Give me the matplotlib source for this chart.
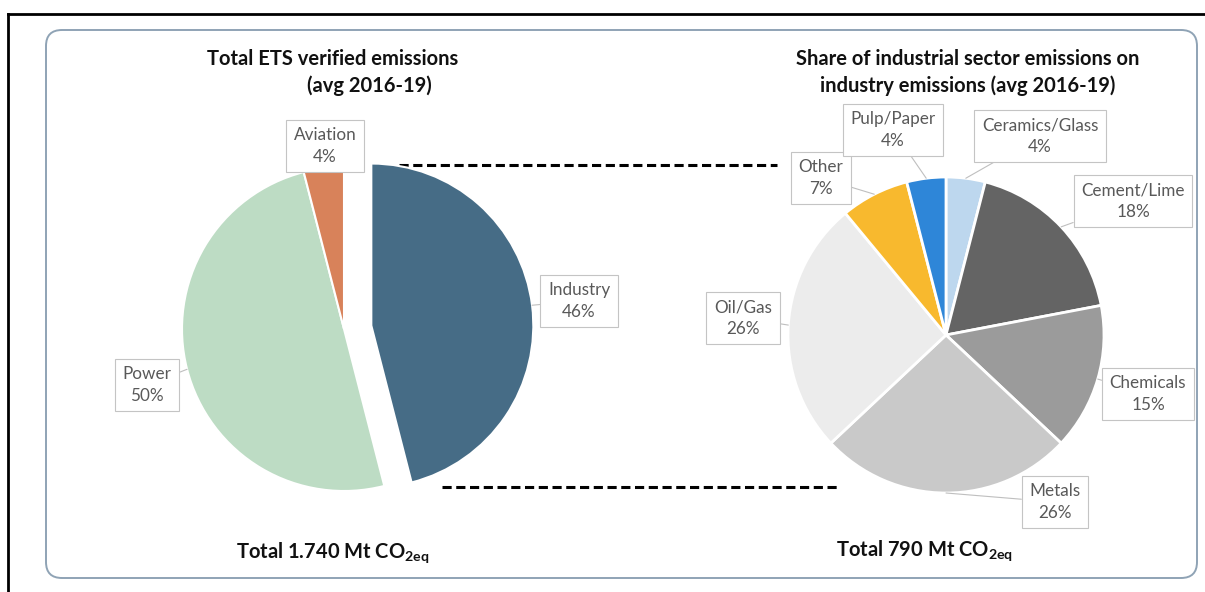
import numpy as np
import matplotlib.pyplot as plt
from matplotlib.patches import FancyBboxPatch

plt.rcParams['font.family'] = ['Lato', 'DejaVu Sans']
plt.rcParams['mathtext.fontset'] = 'custom'
plt.rcParams['mathtext.rm'] = 'Lato'
plt.rcParams['mathtext.bf'] = 'Lato:bold'

# data
ets_labels = ['Industry', 'Power', 'Aviation']
ets_share = [46, 50, 4]
ets_colors = ['#466c86', '#bddcc4', '#d8825a']

ind_labels = ['Ceramics/Glass', 'Cement/Lime', 'Chemicals', 'Metals', 'Oil/Gas', 'Other', 'Pulp/Paper']
ind_share = [4, 18, 15, 26, 26, 7, 4]
ind_colors = ['#bdd7ee', '#646464', '#9b9b9b', '#c9c9c9', '#ececec', '#f8b92e', '#2e86d8']

W, H = 1205, 592
fig = plt.figure(figsize=(W / 100, H / 100), dpi=100)
bg = fig.add_axes([0, 0, 1, 1])
bg.set_xlim(0, W)
bg.set_ylim(H, 0)
bg.axis('off')

# frame + rounded panel
bg.plot([8, 8], [14, H], color='black', lw=2)
bg.plot([8, W], [14, 14], color='black', lw=2)
bg.add_patch(FancyBboxPatch((46, 30), 1151, 548, boxstyle='round,pad=0,rounding_size=16',
                            fc='white', ec='#8fa3b5', lw=1.4))

# connector lines
bg.plot([399, 777], [165, 165], color='black', lw=2.2, ls=(0, (3, 1.5)))
bg.plot([442, 838], [487, 487], color='black', lw=2.2, ls=(0, (3, 1.5)))

tkw = dict(fontsize=14.5, fontweight='bold', color='#111111', ha='center', va='center')
bg.text(333, 59, 'Total ETS verified emissions', **tkw)
bg.text(369, 86, '(avg 2016-19)', **tkw)
bg.text(968, 59, 'Share of industrial sector emissions on', **tkw)
bg.text(968, 86, 'industry emissions (avg 2016-19)', **tkw)
bg.text(333, 553, r'Total 1.740 Mt CO$_{\mathbf{2eq}}$', **tkw)
bg.text(925, 551, r'Total 790 Mt CO$_{\mathbf{2eq}}$', **tkw)


def pie_axes(cx, cy, r):
    half = 2 * r
    ax = fig.add_axes([(cx - half) / W, (H - cy - half) / H, 2 * half / W, 2 * half / H])
    ax.axis('off')
    return ax


box = dict(boxstyle='square,pad=0.45', fc='white', ec='#c4c4c4', lw=0.8)
arrow = dict(arrowstyle='-', color='#bfbfbf', lw=0.8, shrinkA=0, shrinkB=0)


def add_labels(ax, wedges, labels, shares, pos):
    ax.set_xlim(-2, 2)
    ax.set_ylim(-2, 2)
    for w, lab, s, (px, py) in zip(wedges, labels, shares, pos):
        mid = np.deg2rad((w.theta1 + w.theta2) / 2)
        xy = (w.center[0] + w.r * np.cos(mid), w.center[1] + w.r * np.sin(mid))
        ax.annotate(f'{lab}\n{s}%', xy=xy, xytext=(px, H - py), textcoords='figure pixels',
                    ha='center', va='center', fontsize=12.3, color='#595959',
                    linespacing=1.4, bbox=box, arrowprops=arrow)


ax1 = pie_axes(344, 329, 162)
w1, _ = ax1.pie(ets_share, colors=ets_colors, startangle=90, counterclock=False,
                explode=[0.17, 0, 0], wedgeprops=dict(ec='white', lw=1.5))
add_labels(ax1, w1, ets_labels, ets_share, [(579, 301), (147, 385), (325, 146)])

ax2 = pie_axes(946, 335, 158)
w2, _ = ax2.pie(ind_share, colors=ind_colors, startangle=90, counterclock=False,
                wedgeprops=dict(ec='white', lw=2))
add_labels(ax2, w2, ind_labels, ind_share,
           [(1040, 136), (1133, 201), (1148, 394), (1055, 502), (743, 318), (821, 178), (893, 130)])

fig.savefig('out.png', dpi=100)
